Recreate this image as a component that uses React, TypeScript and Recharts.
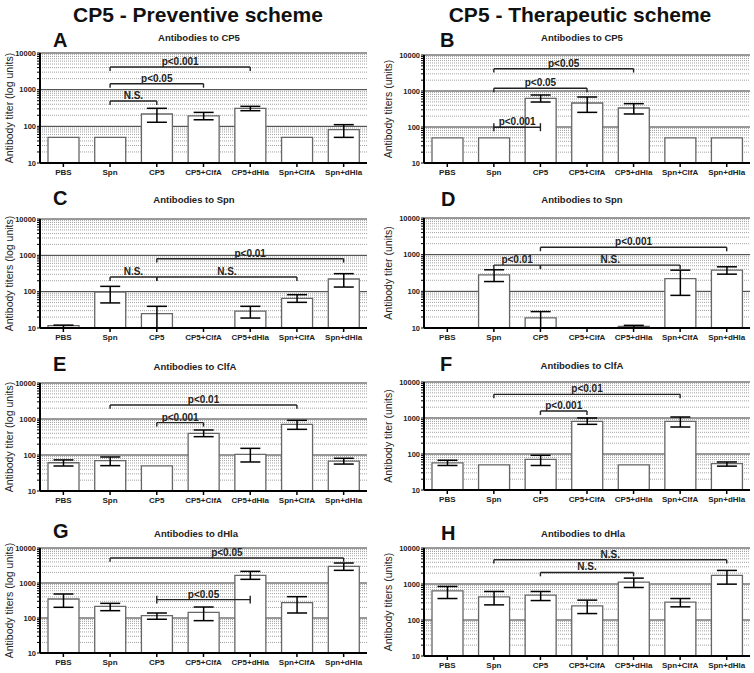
import {
  BarChart,
  Bar,
  XAxis,
  YAxis,
  CartesianGrid,
  ErrorBar,
  ReferenceLine,
  Rectangle,
} from "recharts";

const font = "'Liberation Sans', Arial, sans-serif";

const groups = ["PBS", "Spn", "CP5", "CP5+ClfA", "CP5+dHla", "Spn+ClfA", "Spn+dHla"];

const majorTicks = [10, 100, 1000, 10000];
const minorTicks = [
  20, 30, 40, 50, 60, 70, 80, 90,
  200, 300, 400, 500, 600, 700, 800, 900,
  2000, 3000, 4000, 5000, 6000, 7000, 8000, 9000,
];
const allTicks = [...majorTicks, ...minorTicks].sort((a, b) => a - b);

// A - preventive, antibodies to CP5
const aMean = [50, 50, 217, 192, 310, 50, 81];
const aLow = [null, null, 129, 151, 267, null, 50];
const aHigh = [null, null, 310, 240, 351, null, 111];
const aBrackets = [
  { from: "Spn", to: "CP5", level: 490, text: "N.S." },
  { from: "Spn", to: "CP5+ClfA", level: 1450, text: "p<0.05" },
  { from: "Spn", to: "CP5+dHla", level: 4150, text: "p<0.001" },
];

// B - therapeutic, antibodies to CP5
const bMean = [50, 50, 625, 464, 337, 50, 50];
const bLow = [null, null, 494, 255, 230, null, null];
const bHigh = [null, null, 774, 681, 445, null, null];
const bBrackets = [
  { from: "Spn", to: "CP5+dHla", level: 4170, text: "p<0.05" },
  { from: "Spn", to: "CP5+ClfA", level: 1190, text: "p<0.05" },
  { from: "Spn", to: "CP5", level: 98, text: "p<0.001", both: true },
];

// C - preventive, antibodies to Spn
const cMean = [11.6, 98, 24.8, null, 29, 65.6, 223];
const cLow = [10, 49, 10, null, 18.8, 50.8, 134];
const cHigh = [12, 140, 39.5, null, 39.5, 82.6, 313];
const cBrackets = [
  { from: "Spn", to: "CP5", level: 253, text: "N.S." },
  { from: "CP5", to: "Spn+ClfA", level: 253, text: "N.S." },
  { from: "CP5", to: "Spn+dHla", level: 809, text: "p<0.01" },
];

// D - therapeutic, antibodies to Spn
const dMean = [null, 282, 18.9, null, 11.1, 223, 378];
const dLow = [null, 185, 10, null, 10, 77.6, 294];
const dHigh = [null, 387, 28, null, 11.8, 378, 467];
const dBrackets = [
  { from: "CP5", to: "Spn+dHla", level: 1590, text: "p<0.001" },
  { from: "Spn", to: "CP5", level: 520, text: "p<0.01" },
  { from: "CP5", to: "Spn+ClfA", level: 520, text: "N.S." },
];

// E - preventive, antibodies to ClfA
const eMean = [61, 70, 50, 400, 104, 711, 68];
const eLow = [49.5, 50.6, null, 323, 64, 516, 56];
const eHigh = [73, 88, null, 495, 153, 918, 81];
const eBrackets = [
  { from: "Spn", to: "Spn+ClfA", level: 2450, text: "p<0.01" },
  { from: "CP5", to: "CP5+ClfA", level: 791, text: "p<0.001" },
];

// F - therapeutic, antibodies to ClfA
const fMean = [57, 50, 71, 808, 50, 808, 54];
const fLow = [48, null, 48, 667, null, 562, 46];
const fHigh = [67, null, 92, 1000, null, 1066, 60];
const fBrackets = [
  { from: "Spn", to: "Spn+ClfA", level: 4540, text: "p<0.01" },
  { from: "CP5", to: "CP5+ClfA", level: 1560, text: "p<0.001" },
];

// G - preventive, antibodies to dHla
const gMean = [349, 215, 117, 145, 1655, 274, 2993];
const gLow = [202, 162, 92, 84, 1273, 139, 2300];
const gHigh = [485, 262, 139, 206, 2155, 407, 3726];
const gBrackets = [
  { from: "Spn", to: "Spn+dHla", level: 5180, text: "p<0.05" },
  { from: "CP5", to: "CP5+dHla", level: 334, text: "p<0.05", both: true },
];

// H - therapeutic, antibodies to dHla
const hMean = [646, 440, 490, 247, 1127, 313, 1730];
const hLow = [395, 263, 347, 151, 800, 232, 991];
const hHigh = [854, 620, 620, 356, 1456, 395, 2383];
const hBrackets = [
  { from: "Spn", to: "Spn+dHla", level: 4720, text: "N.S." },
  { from: "CP5", to: "CP5+dHla", level: 2096, text: "N.S." },
];

type Bracket = { from: string; to: string; level: number; text: string; both?: boolean };

function BarShape(props: any) {
  if (props.payload.mean == null) return <g />;
  return <Rectangle {...props} />;
}

function Panel(props: {
  left: number;
  plotTop: number;
  plotBottom: number;
  mean: (number | null)[];
  low: (number | null)[];
  high: (number | null)[];
  brackets: Bracket[];
  yLabel: string;
  right?: boolean;
}) {
  const { left, plotTop, plotBottom, mean, low, high, brackets, yLabel, right } = props;
  const data = groups.map((g, i) => {
    const m = mean[i];
    const lo = low[i];
    const hi = high[i];
    return {
      name: g,
      mean: m,
      err: m != null && lo != null && hi != null ? [m - lo, hi - m] : null,
    };
  });
  const mTop = 6;
  const axisW = right ? 47 : 40;
  const height = plotBottom - plotTop + mTop + 26;

  return (
    <div style={{ position: "absolute", left, top: plotTop - mTop }}>
      <BarChart
        width={377}
        height={height}
        data={data}
        margin={{ top: mTop, right: right ? 4 : 10, bottom: 0, left: 0 }}
        barSize={31}
        style={{ overflow: "visible" }}
      >
        <CartesianGrid
          vertical={false}
          horizontalValues={minorTicks}
          stroke="#8c8c8c"
          strokeDasharray="1 1"
          strokeWidth={0.8}
        />
        <CartesianGrid
          vertical={false}
          horizontalValues={[100, 1000, 10000]}
          stroke="#333"
          strokeWidth={1}
        />
        <XAxis
          dataKey="name"
          interval={0}
          tickSize={4}
          tickMargin={2}
          height={26}
          axisLine={{ stroke: "#000", strokeWidth: 2 }}
          tickLine={{ stroke: "#000", strokeWidth: 1.5 }}
          tick={{ fontSize: 8, fontWeight: "bold", fill: "#222", fontFamily: font }}
        />
        <YAxis
          type="number"
          scale="log"
          domain={[10, 10000]}
          allowDataOverflow
          ticks={allTicks}
          interval={0}
          width={axisW}
          tickSize={3}
          tickMargin={1}
          tickFormatter={(v: number) => (majorTicks.includes(v) ? String(v) : "")}
          axisLine={{ stroke: "#000", strokeWidth: 2 }}
          tickLine={{ stroke: "#000", strokeWidth: 1 }}
          tick={{ fontSize: 7.5, fontWeight: "bold", fill: "#222", fontFamily: font }}
          label={{
            value: yLabel,
            angle: -90,
            position: "insideLeft",
            offset: right ? 11 : 9,
            fontSize: 10.5,
            fill: "#222",
            fontFamily: font,
            style: { textAnchor: "middle" },
          }}
        />
        <Bar
          dataKey="mean"
          fill="#fff"
          stroke="#666"
          strokeWidth={1.3}
          shape={BarShape}
          isAnimationActive={false}
        >
          <ErrorBar dataKey="err" width={10} stroke="#000" strokeWidth={1.5} />
        </Bar>
        {brackets.map((b, k) => (
          <ReferenceLine
            key={`m${k}`}
            segment={[
              { x: b.from, y: b.level },
              { x: b.to, y: b.level },
            ]}
            stroke="#222"
            strokeWidth={1.4}
            label={{
              value: b.text,
              position: "top",
              offset: 2,
              fontSize: 10,
              fontWeight: "bold",
              fill: "#222",
              fontFamily: font,
            }}
          />
        ))}
        {brackets.flatMap((b, k) =>
          [b.from, b.to].map((x, j) => (
            <ReferenceLine
              key={`t${k}-${j}`}
              segment={[
                { x, y: b.both ? b.level * 1.3 : b.level },
                { x, y: b.level * 0.78 },
              ]}
              stroke="#222"
              strokeWidth={1.4}
            />
          ))
        )}
      </BarChart>
    </div>
  );
}

const headers = [
  { x: 198, y: 22, text: "CP5 - Preventive scheme" },
  { x: 580, y: 22, text: "CP5 - Therapeutic scheme" },
];

const letters = [
  { x: 53, y: 47, text: "A" },
  { x: 440, y: 47, text: "B" },
  { x: 53, y: 205, text: "C" },
  { x: 441, y: 206, text: "D" },
  { x: 53, y: 371, text: "E" },
  { x: 440, y: 371, text: "F" },
  { x: 53, y: 538, text: "G" },
  { x: 441, y: 540, text: "H" },
];

const panelTitles = [
  { x: 199, y: 41, text: "Antibodies to CP5" },
  { x: 582, y: 41, text: "Antibodies to CP5" },
  { x: 194, y: 203, text: "Antibodies to Spn" },
  { x: 582, y: 203, text: "Antibodies to Spn" },
  { x: 195, y: 370, text: "Antibodies to ClfA" },
  { x: 582, y: 369, text: "Antibodies to ClfA" },
  { x: 196, y: 537, text: "Antibodies to dHla" },
  { x: 583, y: 537, text: "Antibodies to dHla" },
];

export default function App() {
  return (
    <div
      style={{
        position: "absolute",
        left: 0,
        top: 0,
        width: 754,
        height: 673,
        background: "#fff",
        fontFamily: font,
      }}
    >
      <svg width={754} height={673} style={{ position: "absolute", left: 0, top: 0 }}>
        {headers.map((h) => (
          <text key={h.text} x={h.x} y={h.y} textAnchor="middle" fontSize={21} fontWeight="bold" fill="#111" fontFamily={font}>
            {h.text}
          </text>
        ))}
        {letters.map((l) => (
          <text key={l.text} x={l.x} y={l.y} fontSize={20} fontWeight="bold" fill="#111" fontFamily={font}>
            {l.text}
          </text>
        ))}
        {panelTitles.map((t, i) => (
          <text key={i} x={t.x} y={t.y} textAnchor="middle" fontSize={9.5} fontWeight="bold" fill="#222" fontFamily={font}>
            {t.text}
          </text>
        ))}
      </svg>
      <Panel left={0} plotTop={53} plotBottom={163} mean={aMean} low={aLow} high={aHigh} brackets={aBrackets} yLabel="Antibody titer (log units)" />
      <Panel left={377} plotTop={55} plotBottom={163} mean={bMean} low={bLow} high={bHigh} brackets={bBrackets} yLabel="Antibody titers (units)" right />
      <Panel left={0} plotTop={219} plotBottom={328} mean={cMean} low={cLow} high={cHigh} brackets={cBrackets} yLabel="Antibody titers (log units)" />
      <Panel left={377} plotTop={218} plotBottom={328} mean={dMean} low={dLow} high={dHigh} brackets={dBrackets} yLabel="Antibody titer (units)" right />
      <Panel left={0} plotTop={383} plotBottom={491} mean={eMean} low={eLow} high={eHigh} brackets={eBrackets} yLabel="Antibody titer (log units)" />
      <Panel left={377} plotTop={382} plotBottom={490} mean={fMean} low={fLow} high={fHigh} brackets={fBrackets} yLabel="Antibody titer (units)" right />
      <Panel left={0} plotTop={548} plotBottom={653} mean={gMean} low={gLow} high={gHigh} brackets={gBrackets} yLabel="Antibody titers (log units)" />
      <Panel left={377} plotTop={548} plotBottom={656} mean={hMean} low={hLow} high={hHigh} brackets={hBrackets} yLabel="Antibody titers (units)" right />
    </div>
  );
}
